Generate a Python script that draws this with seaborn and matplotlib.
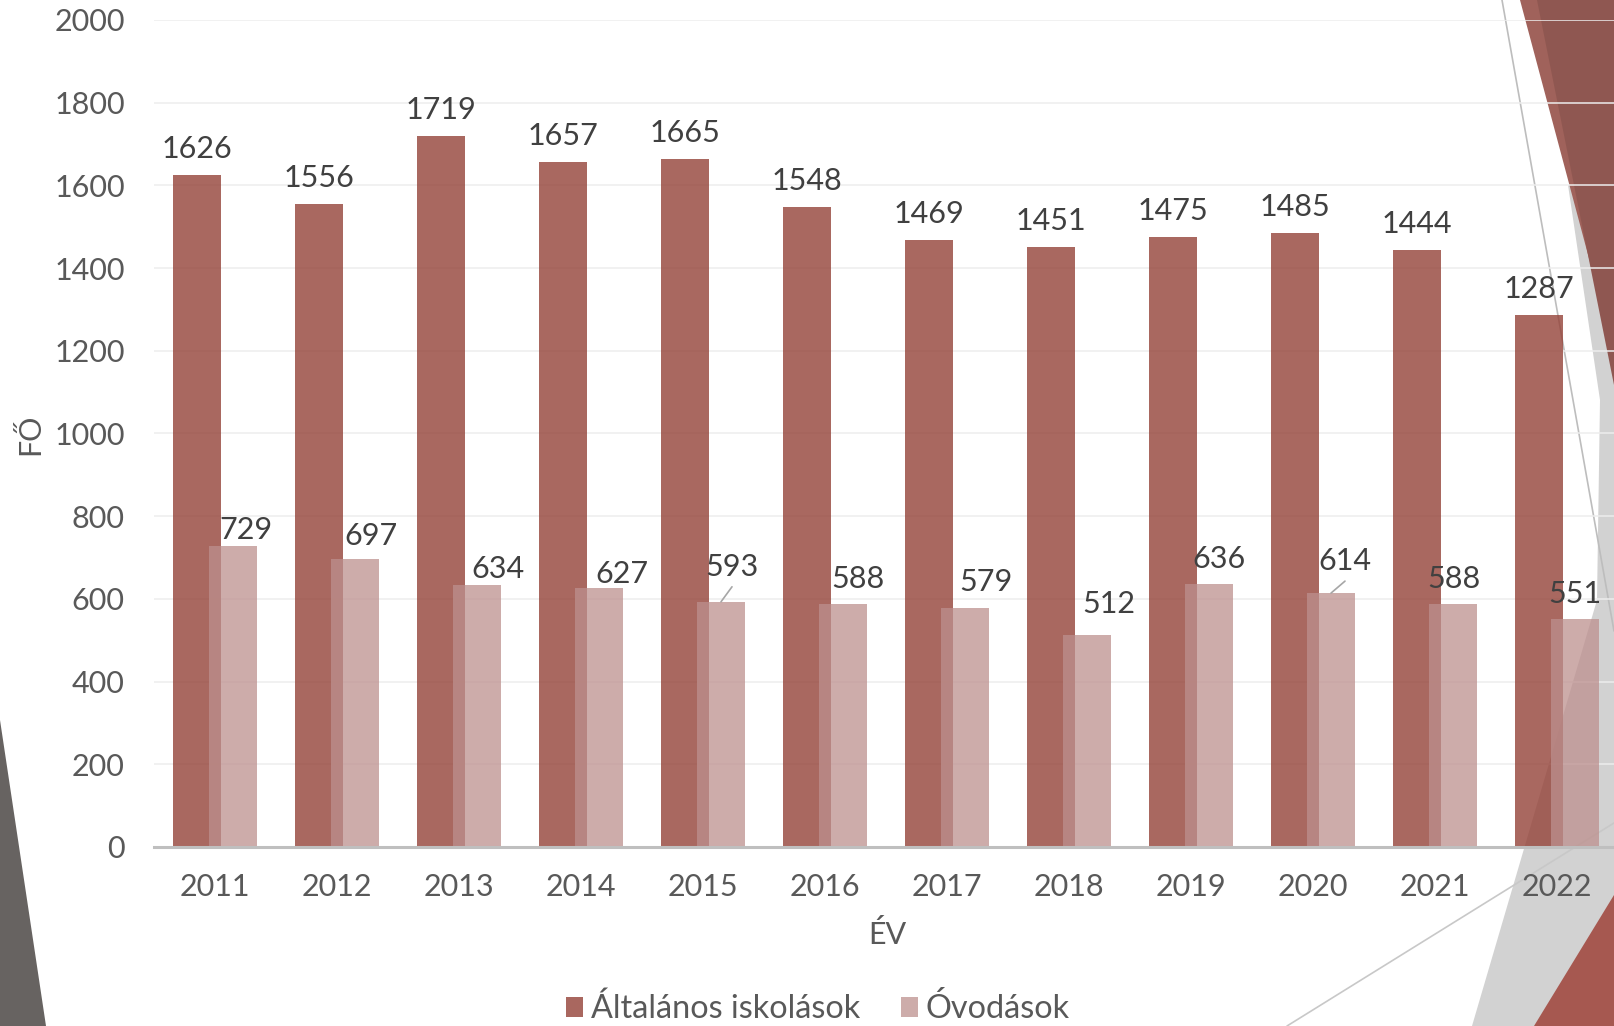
import matplotlib
matplotlib.use("Agg")
import matplotlib.pyplot as plt
import pandas as pd
import seaborn as sns
from matplotlib.patches import Patch, Polygon

YEARS = [2011, 2012, 2013, 2014, 2015, 2016, 2017, 2018, 2019, 2020, 2021, 2022]
ALTALANOS = [1626, 1556, 1719, 1657, 1665, 1548, 1469, 1451, 1475, 1485, 1444, 1287]
OVODAS = [729, 697, 634, 627, 593, 588, 579, 512, 636, 614, 588, 551]
SERIES = ["Általános iskolások", "Óvodások"]

# a rózsaszín címkék kézi eltolása (px), ahogy az eredeti diagramon
PINK_DX = [13, 16, 21, 23, 11, 15, 21, 22, 10, 14, 1, 0]
PINK_GAP = [7, 14, 7, 5, 26, 16, 17, 22, 16, 23, 16, 16]
LEADER = {2015, 2020}

W, H, DPI = 1614, 1026, 100
PT = 72 / DPI  # px -> pont

RED = "#944238"
PINK = "#BD908E"
TXT = "#595959"
LBL = "#404040"


def draw_background(fig):
    bg = fig.add_axes([0, 0, 1, 1], zorder=0)
    bg.set_xlim(0, W)
    bg.set_ylim(H, 0)
    bg.axis("off")
    shapes = [
        ([(1568, 185), (1614, 185), (1614, 1026), (1472, 1026), (1597, 600), (1600, 400)], "#D2D2D2"),
        ([(1520, 0), (1614, 0), (1614, 352)], "#A0625B"),
        ([(1537, 0), (1614, 0), (1614, 385)], "#8F5751"),
        ([(1534, 1026), (1614, 895), (1614, 1026)], "#A65850"),
        ([(0, 720), (46, 1026), (0, 1026)], "#676361"),
    ]
    for pts, c in shapes:
        bg.add_patch(Polygon(pts, closed=True, fc=c, ec="none"))
    bg.plot([1502, 1614], [0, 631], color="#BDBDBD", lw=1.2)
    bg.plot([1287, 1614], [1026, 823], color="#C8C8C8", lw=1.2)


def main() -> None:
    sns.set_theme(style="white")
    plt.rcParams["font.family"] = ["Lato", "DejaVu Sans"]

    fig = plt.figure(figsize=(W / DPI, H / DPI), dpi=DPI)
    draw_background(fig)

    ax = fig.add_axes([154 / W, 179 / H, 1464 / W, 827 / H], zorder=1)
    ax.patch.set_alpha(0)

    df = pd.DataFrame({
        "ÉV": YEARS * 2,
        "FŐ": ALTALANOS + OVODAS,
        "sorozat": [SERIES[0]] * len(YEARS) + [SERIES[1]] * len(YEARS),
    })
    sns.barplot(data=df, x="ÉV", y="FŐ", hue="sorozat", hue_order=SERIES,
                palette=[RED, PINK], width=0.778, dodge=True, saturation=1,
                linewidth=0, legend=False, ax=ax)

    # átfedő oszlopok: közelebb toljuk őket egymáshoz
    shift = 0.778 / 4 - 18 / 122
    for bar in ax.containers[0]:
        bar.set_x(bar.get_x() + shift)
        bar.set_alpha(0.8)
    for bar in ax.containers[1]:
        bar.set_x(bar.get_x() - shift)
        bar.set_alpha(0.75)

    ax.set_xlim(-0.5, len(YEARS) - 0.5)
    ax.set_ylim(0, 2000)
    ax.set_yticks(range(0, 2001, 200))
    ax.set_xlabel("")
    ax.set_ylabel("")
    ax.tick_params(axis="both", length=0, labelsize=22, colors=TXT)
    ax.tick_params(axis="y", pad=21)
    ax.tick_params(axis="x", pad=19)
    ax.yaxis.grid(True, color="#EDEDED", lw=1.1)
    ax.set_axisbelow(True)
    for s in ["left", "right", "top"]:
        ax.spines[s].set_visible(False)
    ax.spines["bottom"].set_color("#BFBFBF")
    ax.spines["bottom"].set_linewidth(2.2)

    # adatcímkék
    for i, (a, o) in enumerate(zip(ALTALANOS, OVODAS)):
        ax.annotate(str(a), xy=(i - 18 / 122, a), xytext=(0, 17 * PT),
                    textcoords="offset points", ha="center", va="baseline",
                    fontsize=22, color=LBL)
        xo = i + 18 / 122
        ax.annotate(str(o), xy=(xo, o), xytext=(PINK_DX[i] * PT, PINK_GAP[i] * PT),
                    textcoords="offset points", ha="center", va="baseline",
                    fontsize=22, color=LBL)
        if YEARS[i] in LEADER:
            ax.annotate("", xy=(xo, o), xytext=(PINK_DX[i] * PT, (PINK_GAP[i] - 11) * PT),
                        textcoords="offset points",
                        arrowprops=dict(arrowstyle="-", color="#A6A6A6", lw=1.2,
                                        shrinkA=0, shrinkB=0))

    fig.text(30 / W, 1 - 434 / H, "FŐ", rotation=90, ha="center", va="center",
             fontsize=22, color=TXT)
    fig.text(887 / W, 1 - 935 / H, "ÉV", ha="center", va="center",
             fontsize=22, color=TXT)

    handles = [Patch(fc="#A9675F", ec="none"), Patch(fc="#CDACAA", ec="none")]
    fig.legend(handles, SERIES, loc="center", bbox_to_anchor=(818 / W, 1 - 1009 / H),
               ncol=2, frameon=False, fontsize=23.3, labelcolor=TXT,
               handlelength=0.53, handleheight=0.53, handletextpad=0.22,
               columnspacing=1.28, borderpad=0.1)

    fig.savefig("out.png", dpi=DPI)
    plt.close(fig)


if __name__ == "__main__":
    main()
